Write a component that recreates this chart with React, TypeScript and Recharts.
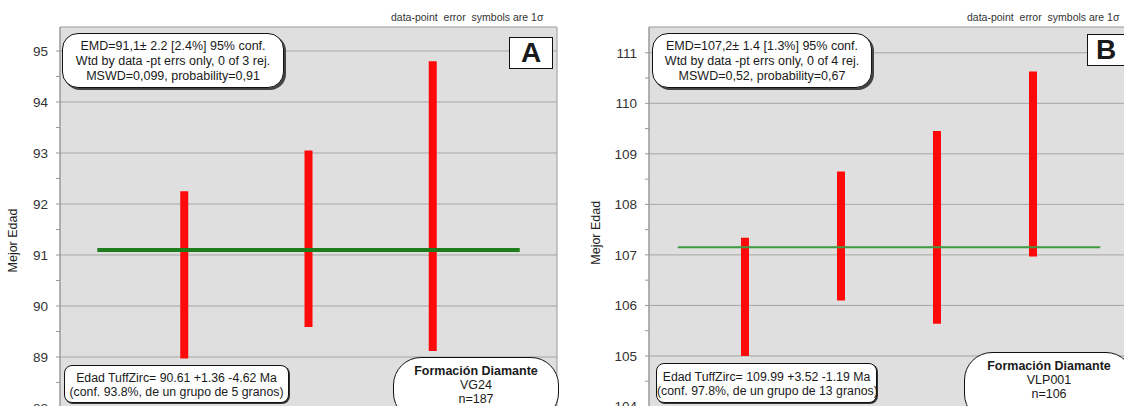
import React from 'react'
import {
  ScatterChart,
  Scatter,
  XAxis,
  YAxis,
  CartesianGrid,
  ErrorBar,
  ReferenceArea,
} from 'recharts'

// panel A – VG24 (age ranges, Ma)
const samplesA = [1, 2, 3]
const lowA = [88.97, 89.59, 89.12]
const highA = [92.25, 93.05, 94.8]
const meanA = 91.1
const ticksA = [88, 88.5, 89, 89.5, 90, 90.5, 91, 91.5, 92, 92.5, 93, 93.5, 94, 94.5, 95]
const gridA = [88, 89, 90, 91, 92, 93, 94, 95]

// panel B – VLP001
const samplesB = [1, 2, 3, 4]
const lowB = [105.0, 106.1, 105.64, 106.97]
const highB = [107.34, 108.65, 109.45, 110.63]
const meanB = 107.15
const ticksB = [104, 104.5, 105, 105.5, 106, 106.5, 107, 107.5, 108, 108.5, 109, 109.5, 110, 110.5, 111]
const gridB = [104, 105, 106, 107, 108, 109, 110, 111]

const FONT = '"Liberation Sans", Arial, Helvetica, sans-serif'
const RED = '#ff0a0a'
const PLOT_BG = '#dfdfdf'
const GRID = '#a6a6a6'

interface PanelProps {
  samples: number[]
  low: number[]
  high: number[]
  mean: number
  ticks: number[]
  grid: number[]
  yDomain: [number, number]
  xMax: number
  width: number
  height: number
  axisWidth: number
  margin: { top: number; right: number; bottom: number; left: number }
  meanColor: string
  meanWidth: number
  titleX: number
  titleDy: number
}

function ErrorPanel(p: PanelProps) {
  const points = p.samples.map((x, i) => ({
    x,
    y: (p.low[i] + p.high[i]) / 2,
    err: (p.high[i] - p.low[i]) / 2,
  }))
  const meanLine = [
    { x: 0.3, y: p.mean },
    { x: p.samples.length + 0.7, y: p.mean },
  ]

  const title = (props: any) => {
    const vb = props.viewBox
    const cx = vb.x + p.titleX
    const cy = vb.y + vb.height / 2 + p.titleDy
    return (
      <text
        transform={`translate(${cx}, ${cy}) rotate(-90)`}
        textAnchor="middle"
        dominantBaseline="central"
        fontSize={12.5}
        fill="#222"
      >
        Mejor Edad
      </text>
    )
  }

  return (
    <ScatterChart width={p.width} height={p.height} margin={p.margin}>
      <CartesianGrid horizontalValues={p.grid} vertical={false} stroke={GRID} fill={PLOT_BG} />
      <XAxis type="number" dataKey="x" domain={[0, p.xMax]} hide allowDataOverflow />
      <YAxis
        type="number"
        dataKey="y"
        domain={p.yDomain}
        ticks={p.ticks}
        allowDataOverflow
        width={p.axisWidth}
        interval={0}
        tick={{ fill: '#333', fontSize: 13.5 }}
        tickFormatter={(v: number) => (Number.isInteger(v) ? String(v) : '')}
        tickSize={4}
        tickMargin={8}
        tickLine={{ stroke: '#999' }}
        axisLine={{ stroke: '#999' }}
        label={{ content: title }}
      />
      <ReferenceArea
        x1={0}
        x2={p.xMax}
        y1={p.yDomain[0]}
        y2={p.yDomain[1]}
        fill="none"
        stroke="#9a9a9a"
        ifOverflow="visible"
      />
      <Scatter data={points} shape={() => <g />} isAnimationActive={false}>
        <ErrorBar
          dataKey="err"
          direction="y"
          width={0}
          strokeWidth={8}
          stroke={RED}
          isAnimationActive={false}
        />
      </Scatter>
      <Scatter
        data={meanLine}
        line={{ stroke: p.meanColor, strokeWidth: p.meanWidth }}
        shape={() => <g />}
        isAnimationActive={false}
      />
    </ScatterChart>
  )
}

const box = (extra: React.CSSProperties): React.CSSProperties => ({
  position: 'absolute',
  boxSizing: 'border-box',
  background: '#fff',
  border: '1.5px solid #111',
  textAlign: 'center',
  color: '#1a1a1a',
  whiteSpace: 'nowrap',
  ...extra,
})

export default function App() {
  return (
    <div
      style={{
        position: 'fixed',
        left: 0,
        top: 0,
        width: 1124,
        height: 406,
        overflow: 'hidden',
        background: '#fff',
        fontFamily: FONT,
      }}
    >
      <div style={{ position: 'absolute', left: 0, top: 0 }}>
        <ErrorPanel
          samples={samplesA}
          low={lowA}
          high={highA}
          mean={meanA}
          ticks={ticksA}
          grid={gridA}
          yDomain={[88, 95.47]}
          xMax={4}
          width={570}
          height={420}
          axisWidth={60}
          margin={{ top: 27, right: 13, bottom: 12, left: 0 }}
          meanColor="#1d7d1d"
          meanWidth={4}
          titleX={13}
          titleDy={23}
        />
      </div>
      <div style={{ position: 'absolute', left: 560, top: 0 }}>
        <ErrorPanel
          samples={samplesB}
          low={lowB}
          high={highB}
          mean={meanB}
          ticks={ticksB}
          grid={gridB}
          yDomain={[104, 111.51]}
          xMax={5}
          width={600}
          height={420}
          axisWidth={89}
          margin={{ top: 27, right: 31, bottom: 13.5, left: 0 }}
          meanColor="#3f9a3f"
          meanWidth={2}
          titleX={36}
          titleDy={16}
        />
      </div>

      {/* captions above the plots */}
      <div style={{ position: 'absolute', left: 391, top: 11, fontSize: 10.5, color: '#333', whiteSpace: 'pre' }}>
        data-point  error  symbols are 1σ
      </div>
      <div style={{ position: 'absolute', left: 967, top: 11, fontSize: 10.5, color: '#333', whiteSpace: 'pre' }}>
        data-point  error  symbols are 1σ
      </div>

      {/* panel A annotations */}
      <div style={box({ left: 62, top: 33, width: 222, height: 55, borderRadius: 16, fontSize: 12.5, lineHeight: '15px', paddingTop: 5, boxShadow: '2px 2px 0 #444' })}>
        <div>EMD=91,1± 2.2 [2.4%] 95% conf.</div>
        <div>Wtd by data -pt errs only, 0 of 3 rej.</div>
        <div>MSWD=0,099, probability=0,91</div>
      </div>
      <div style={box({ left: 509, top: 37, width: 44, height: 32, fontSize: 28, fontWeight: 700, lineHeight: '29px' })}>A</div>
      <div style={box({ left: 64, top: 365, width: 225, height: 38, borderRadius: 8, fontSize: 12.3, lineHeight: '14px', paddingTop: 5, boxShadow: '1px 1px 0 #333' })}>
        <div>Edad TuffZirc= 90.61 +1.36 -4.62 Ma</div>
        <div>(conf. 93.8%, de un grupo de 5 granos)</div>
      </div>
      <div style={box({ left: 393, top: 357, width: 166, height: 64, borderRadius: 28, fontSize: 12.5, lineHeight: '14px', paddingTop: 6 })}>
        <div style={{ fontWeight: 700 }}>Formación Diamante</div>
        <div>VG24</div>
        <div>n=187</div>
      </div>

      {/* panel B annotations */}
      <div style={box({ left: 652, top: 33, width: 220, height: 55, borderRadius: 16, fontSize: 12.5, lineHeight: '15px', paddingTop: 5, boxShadow: '2px 2px 0 #444' })}>
        <div>EMD=107,2± 1.4 [1.3%] 95% conf.</div>
        <div>Wtd by data -pt errs only, 0 of 4 rej.</div>
        <div>MSWD=0,52, probability=0,67</div>
      </div>
      <div style={box({ left: 1087, top: 34, width: 44, height: 32, fontSize: 28, fontWeight: 700, lineHeight: '29px', textAlign: 'left', paddingLeft: 8 })}>B</div>
      <div style={box({ left: 656, top: 363, width: 221, height: 40, borderRadius: 8, fontSize: 12.3, lineHeight: '14px', paddingTop: 6, boxShadow: '1px 1px 0 #333' })}>
        <div>Edad TuffZirc= 109.99 +3.52 -1.19 Ma</div>
        <div>(conf. 97.8%, de un grupo de 13 granos)</div>
      </div>
      <div style={box({ left: 964, top: 352, width: 170, height: 70, borderRadius: 28, fontSize: 12.5, lineHeight: '14px', paddingTop: 6 })}>
        <div style={{ fontWeight: 700 }}>Formación Diamante</div>
        <div>VLP001</div>
        <div>n=106</div>
      </div>
    </div>
  )
}
